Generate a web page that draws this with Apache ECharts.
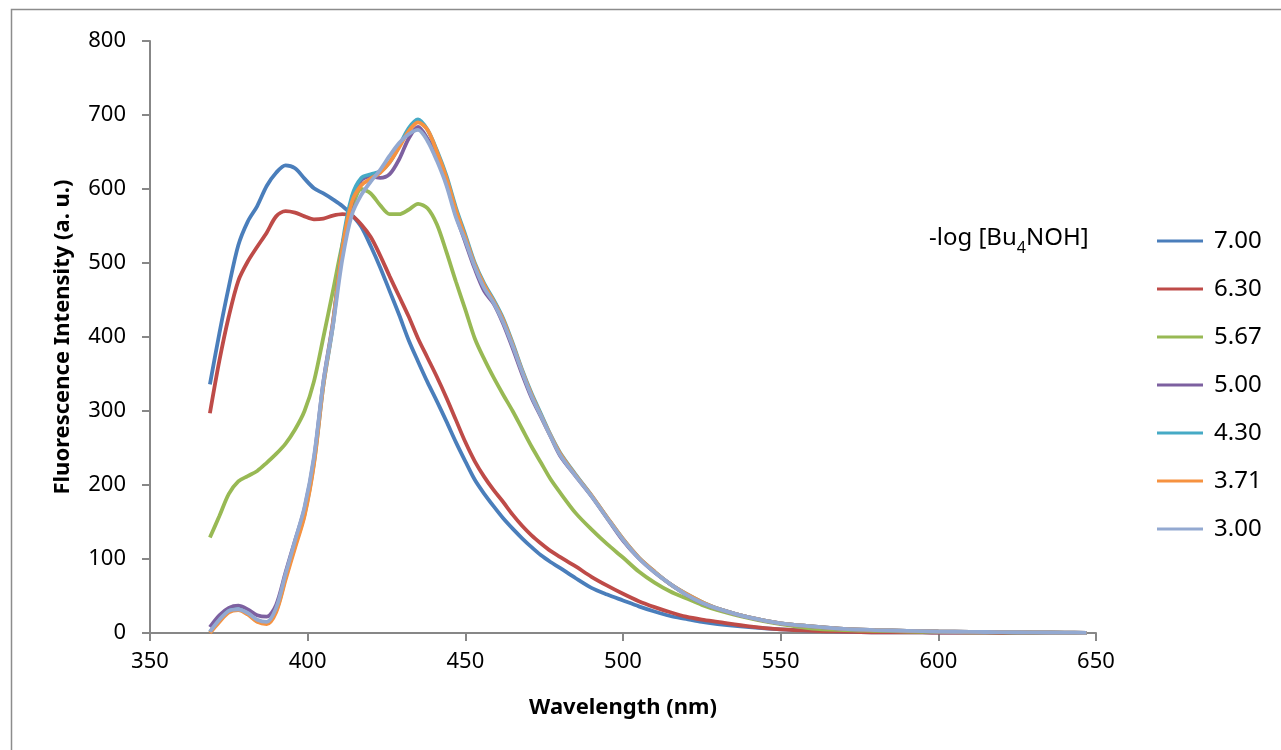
<!DOCTYPE html>
<html>
<head>
<meta charset="utf-8">
<script src="https://cdn.jsdelivr.net/npm/echarts@6/dist/echarts.min.js"></script>
<style>
  html, body { margin: 0; padding: 0; background: #fff; }
  #chart { width: 1281px; height: 750px; }
</style>
</head>
<body>
<div id="chart"></div>
<script>
// Emission wavelengths (nm)
const wavelengths = [369,372,375,378,381,384,387,390,393,396,399,402,405,408,411,414,417,420,423,426,429,432,435,438,441,444,447,450,453,456,459,462,465,468,471,474,477,480,485,490,495,500,505,510,515,520,525,530,540,550,560,570,580,590,600,610,620,630,640,647];

// Fluorescence intensity (a. u.) for each -log [Bu4NOH]
const s700 = [336,405,468,524,556,577,604,622,632,628,614,601,594,586,577,565,549,523,494,462,430,396,367,339,313,286,258,232,207,188,171,155,141,128,116,105,96,88,74,61,52,44,36,29,23,19,15,12,8,5,3,2,1,1,0.5,0.5,0.3,0.2,0.2,0.1];
const s630 = [297,368,428,476,502,522,541,563,570,568,563,559,560,564,566,564,552,535,510,482,455,428,398,372,346,318,288,258,232,211,193,177,160,145,132,121,111,103,90,76,64,53,43,35,28,22,18,15,9,5,3,2,1,1,0.5,0.5,0.3,0.2,0.2,0.1];
const s567 = [129,158,188,205,212,219,230,242,256,275,300,340,400,462,525,572,600,594,578,566,566,572,580,574,552,515,475,437,398,370,345,322,300,276,252,230,208,190,162,140,120,102,83,68,56,47,38,31,20,12,6,4,3,2,1.5,1,0.8,0.5,0.3,0.2];
const s500 = [8,24,34,37,32,24,22,38,82,125,168,235,340,420,520,580,612,617,615,620,640,668,684,668,645,610,565,528,492,462,445,418,385,350,318,292,266,240,212,185,155,125,101,82,66,52,41,33,21,13,9,5.5,4,3,2,1.5,1.2,0.8,0.5,0.3];
const s430 = [1,17,30,32,26,16,14,30,75,118,160,230,335,415,525,590,615,620,624,636,658,682,694,680,652,618,575,538,500,472,450,425,392,356,324,296,268,244,214,186,156,127,102,83,66,53,42,33,21,13,9,5.5,4,3,2,1.5,1.2,0.8,0.5,0.3];
const s371 = [0,15,28,31,25,15,12,28,72,115,158,228,335,418,520,582,605,614,622,636,656,678,690,680,650,615,572,535,498,470,448,423,390,354,322,294,267,243,213,186,156,127,102,83,66,53,42,33,21,13,9,5.5,4,3,2,1.5,1.2,0.8,0.5,0.3];
const s300 = [2,18,30,32,27,18,15,34,80,125,170,238,340,415,505,565,592,610,626,645,662,674,680,665,638,605,562,530,495,466,446,420,388,353,320,293,266,241,212,185,155,126,101,82,66,52,41,33,21,13,9,5.5,4,3,2,1.5,1.2,0.8,0.5,0.3];

const seriesNames = ['7.00','6.30','5.67','5.00','4.30','3.71','3.00'];
const seriesValues = [s700, s630, s567, s500, s430, s371, s300];
const seriesColors = ['#4A7EBB','#BE4B48','#98B954','#7D60A0','#46AAC5','#F69240','#93A9D1'];

// Axis ranges and tick steps
const xMin = 350, xMax = 650, xStep = 50;
const yMin = 0, yMax = 800, yStep = 100;

const FONT = 'Noto Sans';
const axisGray = '#878787';

const chart = echarts.init(document.getElementById('chart'), null, { renderer: 'canvas' });

const series = seriesNames.map((name, i) => ({
  name: name,
  type: 'line',
  data: wavelengths.map((w, k) => [w, seriesValues[i][k]]),
  smooth: 0.3,
  symbol: 'none',
  lineStyle: { width: 3.8, color: seriesColors[i] },
  itemStyle: { color: seriesColors[i] },
  z: 2 + i
}));

chart.setOption({
  animation: false,
  backgroundColor: '#ffffff',
  grid: { left: 150, right: 185, top: 41, bottom: 117, containLabel: false },
  xAxis: {
    type: 'value',
    min: xMin, max: xMax, interval: xStep,
    name: 'Wavelength (nm)',
    nameLocation: 'middle',
    nameGap: 64,
    nameTextStyle: { fontFamily: FONT, fontSize: 22, fontWeight: 'bold', color: '#000' },
    axisLine: { show: true, onZero: false, lineStyle: { color: axisGray, width: 2 } },
    axisTick: { show: true, length: 8, lineStyle: { color: axisGray, width: 2 } },
    axisLabel: { fontFamily: FONT, fontSize: 22, color: '#000', margin: 18 },
    splitLine: { show: false }
  },
  yAxis: {
    type: 'value',
    min: yMin, max: yMax, interval: yStep,
    name: 'Fluorescence Intensity (a. u.)',
    nameLocation: 'middle',
    nameRotate: 90,
    nameGap: 76,
    nameTextStyle: { fontFamily: FONT, fontSize: 22, fontWeight: 'bold', color: '#000' },
    axisLine: { show: true, lineStyle: { color: axisGray, width: 2 } },
    axisTick: { show: true, length: 8, lineStyle: { color: axisGray, width: 2 } },
    axisLabel: { fontFamily: FONT, fontSize: 22, color: '#000', margin: 24 },
    splitLine: { show: false }
  },
  legend: {
    orient: 'vertical',
    left: 1152,
    top: 224,
    icon: 'rect',
    itemWidth: 46,
    itemHeight: 3,
    itemGap: 24,
    data: seriesNames,
    textStyle: { fontFamily: FONT, fontSize: 24, color: '#000', lineHeight: 24, padding: [0, 0, 0, 6] }
  },
  graphic: [
    {
      type: 'rect',
      shape: { x: 11.5, y: 9.5, width: 1400, height: 900 },
      style: { fill: 'none', stroke: '#8c8c8c', lineWidth: 1.5 },
      silent: true,
      z: -1
    },
    {
      type: 'text',
      left: 929,
      top: 226,
      style: {
        text: '{a|-log [Bu}{s|4}{a|NOH]}',
        rich: {
          a: { fontFamily: FONT, fontSize: 24, color: '#000', lineHeight: 30, verticalAlign: 'bottom' },
          s: { fontFamily: FONT, fontSize: 16, color: '#000', lineHeight: 30, verticalAlign: 'bottom', padding: [0, 0, -6, 0] }
        }
      }
    }
  ],
  series: series
});
</script>
</body>
</html>
